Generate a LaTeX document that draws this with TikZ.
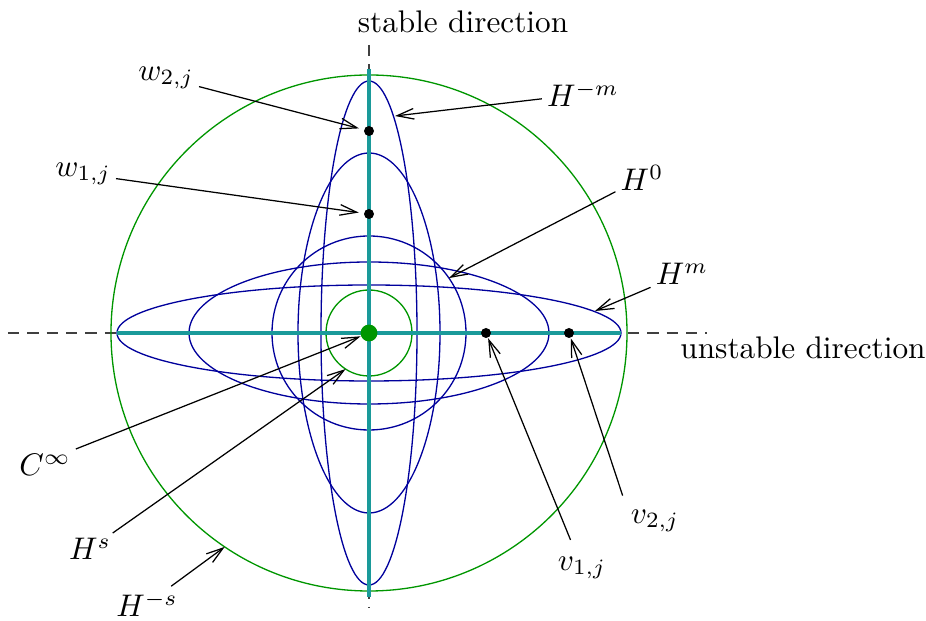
\documentclass[tikz,border=0pt]{standalone}
\usepackage{amsmath}
\usepackage{tikz}
\usetikzlibrary{arrows.meta,positioning}
\definecolor{ovalblue}{HTML}{00009C}
\definecolor{ringgreen}{HTML}{009600}
\definecolor{axisteal}{HTML}{1A9A9A}
\tikzset{
  oval/.style={draw=ovalblue,line width=0.42pt},
  ring/.style={draw=ringgreen,line width=0.42pt},
  axisline/.style={draw=axisteal,line width=1pt},
  dirline/.style={draw=black!75,line width=0.4pt,dash pattern=on 3.6pt off 2.6pt},
  dot/.style={circle,fill=black,inner sep=0pt,minimum size=3.2pt},
  lbl/.style={inner sep=1.5pt},
  pointer/.style={-{Straight Barb[length=5.4pt,width=3.4pt]},line width=0.4pt},
}

\begin{document}
\begin{tikzpicture}[x=0.32pt,y=0.32pt]
\useasboundingbox (-369,-288) rectangle (557,333);
% directions
\draw[dirline] (-361,0) -- (338,0);
\draw[dirline] (0,288) -- (0,-275);
% spaces
\draw[ring] (0,0) circle (258);
\draw[ring] (0,0) circle (43);
\draw[oval] (0,0) ellipse [x radius=252,y radius=48];
\draw[oval] (0,0) ellipse [x radius=180,y radius=71];
\draw[oval] (0,0) circle (97);
\draw[oval] (0,0) ellipse [x radius=71,y radius=180];
\draw[oval] (0,0) ellipse [x radius=48,y radius=252];
\draw[axisline] (-252,0) -- (252,0);
\draw[axisline] (0,264) -- (0,-264);
% points
\node[dot,fill=ringgreen,minimum size=5.4pt] (c0) at (0,0) {};
\node[dot] (w2) at (0,202) {};
\node[dot] (w1) at (0,119) {};
\node[dot] (v1) at (117,0) {};
\node[dot] (v2) at (200,0) {};
\coordinate (tm) at (26,217);
\coordinate (t0) at (34.5:97);
\coordinate (tp) at (226,22);
\coordinate (ts) at (237:43);
\coordinate (tns) at (236:258);
% labels
\node[lbl] (lst) at (94,311) {stable direction};
\node[lbl] (lun) at (434,-15) {unstable direction};
\node[lbl] (lw2) at (-203,255) {$w_{2,j}$};
\node[lbl] (lw1) at (-286,159) {$w_{1,j}$};
\node[lbl] (lHm) at (214,239) {$H^{-m}$};
\node[lbl] (lH0) at (273,155) {$H^{0}$};
\node[lbl] (lHp) at (313,59) {$H^{m}$};
\node[lbl] (lC) at (-324,-132) {$C^{\infty}$};
\node[lbl] (lHs) at (-279,-216) {$H^{s}$};
\node[lbl] (lHns) at (-222,-271) {$H^{-s}$};
\node[lbl] (lv1) at (213,-235) {$v_{1,j}$};
\node[lbl] (lv2) at (286,-188) {$v_{2,j}$};
% pointers
\draw[pointer,shorten >=1.5pt] (lw2) -- (w2);
\draw[pointer,shorten >=1.5pt] (lw1) -- (w1);
\draw[pointer] (lHm) -- (tm);
\draw[pointer] (lH0) -- (t0);
\draw[pointer] (lHp) -- (tp);
\draw[pointer] (lC.north east) -- (c0);
\draw[pointer] (lHs) -- (ts);
\draw[pointer] (lHns) -- (tns);
\draw[pointer,shorten <=4pt] (lv1) -- (v1);
\draw[pointer,shorten <=3pt] (lv2.north west) -- (v2);
\end{tikzpicture}
\end{document}
